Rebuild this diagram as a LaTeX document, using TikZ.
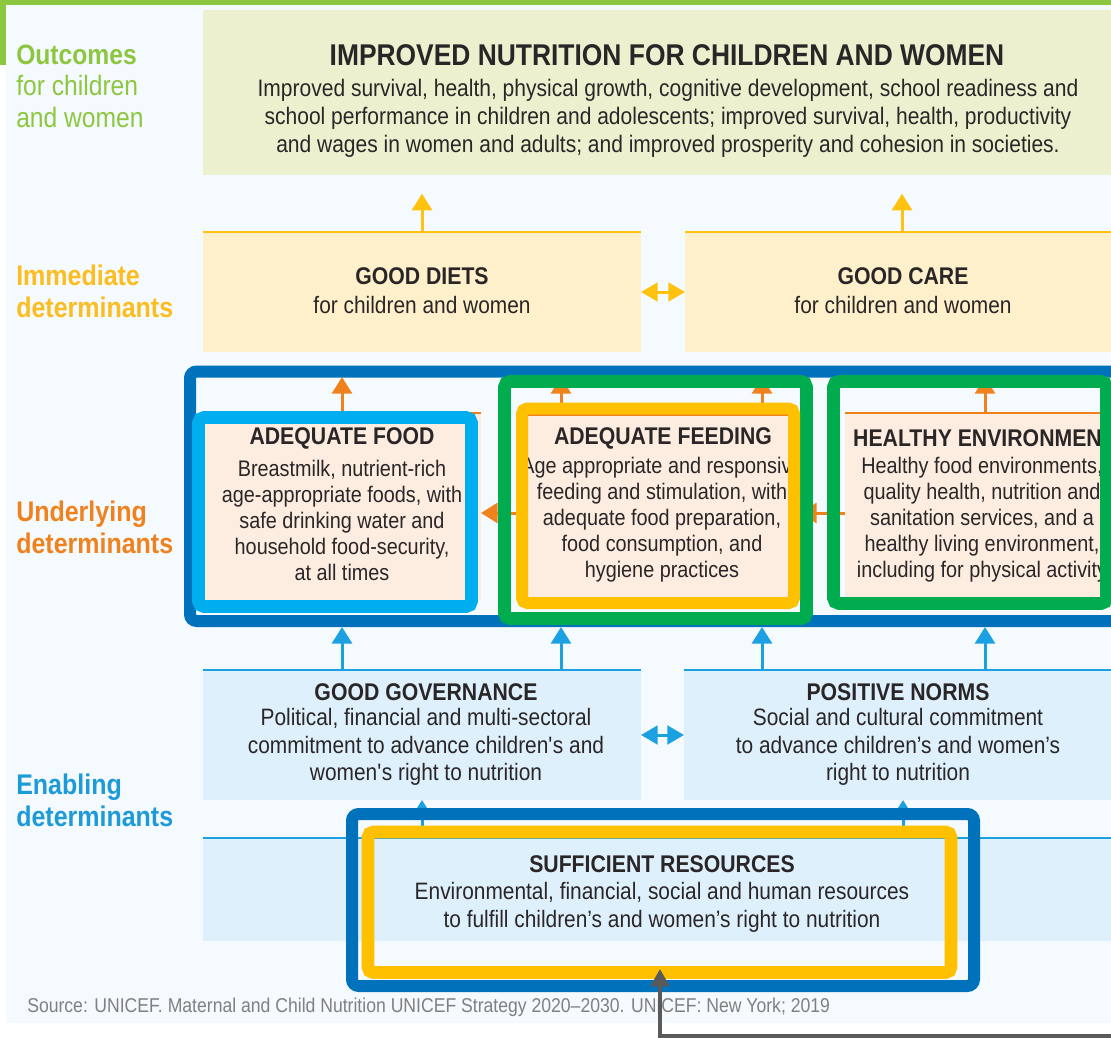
\documentclass[tikz,border=0pt]{standalone}
\usepackage{fontspec}
\setmainfont{Liberation Sans}[FakeStretch=0.88]
\usetikzlibrary{arrows.meta,fit}
\definecolor{cLime}{HTML}{8DC63F}
\definecolor{cPale}{HTML}{F5FAFE}
\definecolor{cOut}{HTML}{EDF0CF}
\definecolor{cYFill}{HTML}{FEF0CA}
\definecolor{cYLine}{HTML}{FFC20E}
\definecolor{cYLabel}{HTML}{FBBD1F}
\definecolor{cOrange}{HTML}{F0821E}
\definecolor{cPeach}{HTML}{FDEDE0}
\definecolor{cBFill}{HTML}{DEF0FC}
\definecolor{cBLine}{HTML}{1BA0E2}
\definecolor{cBLabel}{HTML}{1C9BD8}
\definecolor{cDBlue}{HTML}{0072BB}
\definecolor{cCyan}{HTML}{00AEEF}
\definecolor{cGreen}{HTML}{00AC4E}
\definecolor{cYel}{HTML}{FFC000}
\definecolor{cTxt}{HTML}{2A2627}
\definecolor{cSrc}{HTML}{808080}
\definecolor{cGray}{HTML}{5A5A5A}
\tikzset{
  boxn/.style={inner sep=0pt, outer sep=0pt, draw=none},
  lbl/.style={anchor=west, align=left, inner sep=0pt, font=\fontsize{21}{23.6}\selectfont},
  ttl/.style={inner sep=0pt, text=cTxt, font=\bfseries\fontsize{18.1}{20}\selectfont},
  bdy/.style={inner sep=0pt, text=cTxt, align=center, font=\fontsize{17.8}{20.5}\selectfont},
  ubdy/.style={inner sep=0pt, text=cTxt, align=center, font=\fontsize{16.9}{19.5}\selectfont},
  topline/.style={line width=1.5pt},
  head/.style={-{Triangle[length=12.5pt,width=15pt]}},
  dhead/.style={{Triangle[length=12.5pt,width=14pt]}-{Triangle[length=12.5pt,width=14pt]}},
  yarr/.style={head, line width=2.25pt, draw=cYLine},
  oarr/.style={head, line width=2.25pt, draw=cOrange},
  barr/.style={head, line width=2.25pt, draw=cBLine},
  frm/.style={inner sep=0pt, line width=9.5pt, rounded corners=4pt},
}
\begin{document}
\begin{tikzpicture}[x=0.75pt,y=-0.75pt]
\useasboundingbox (0,0) rectangle (1111,1038);
\fill[white] (0,0) rectangle (1111,1038);
\fill[cLime] (0,0) rectangle (1111,5);
\fill[cLime] (0,0) rectangle (6,65);
\fill[cPale] (6,5) rectangle (1111,1023);

% left labels
\node[lbl, text=cLime] (lout) at (16,86) {\textbf{Outcomes}\\for children\\and women};
\node[lbl, text=cYLabel, font=\bfseries\fontsize{21.3}{24}\selectfont] (limm) at (16,291) {Immediate\\determinants};
\node[lbl, text=cOrange, font=\bfseries\fontsize{21.3}{24}\selectfont] (lund) at (16,527) {Underlying\\determinants};
\node[lbl, text=cBLabel, font=\bfseries\fontsize{21.3}{24}\selectfont] (lena) at (16,800.5) {Enabling\\determinants};

% outcome
\node[boxn, fill=cOut, fit={(203,10) (1111,175)}] (outcome) {};
\node[ttl, font=\bfseries\fontsize{22.5}{24}\selectfont] (outT) at (667,55) {IMPROVED NUTRITION FOR CHILDREN AND WOMEN};
\node[bdy, font=\fontsize{17.9}{21}\selectfont] (outB) at (668,118) {Improved survival, health, physical growth, cognitive development, school readiness and\\school performance in children and adolescents; improved survival, health, productivity\\and wages in women and adults; and improved prosperity and cohesion in societies.};

% immediate
\node[boxn, fill=cYFill, fit={(203,232) (641,352)}] (diets) {};
\node[boxn, fill=cYFill, fit={(685,232) (1111,352)}] (care) {};
\draw[topline, cYLine] (diets.north west) -- (diets.north east);
\draw[topline, cYLine] (care.north west) -- (care.north east);
\node[ttl] (dietsT) at (422,276) {GOOD DIETS};
\node[bdy] (dietsB) at (422,305) {for children and women};
\node[ttl] (careT) at (903,276) {GOOD CARE};
\node[bdy] (careB) at (903,305) {for children and women};

% underlying boxes
\node[boxn, fill=cPeach, fit={(203,413) (481,600)}] (food) {};
\node[boxn, fill=cPeach, fit={(520,415) (800,600)}] (feed) {};
\node[boxn, fill=cPeach, fit={(845,413) (1111,597)}] (env) {};
\draw[topline, cOrange] (food.north west) -- (food.north east);
\draw[topline, cOrange] (feed.north west) -- (feed.north east);
\draw[topline, cOrange] (env.north west) -- (env.north east);
\node[ttl] (foodT) at (342,438) {ADEQUATE FOOD};
\node[ubdy] (foodB) at (342,520) {Breastmilk, nutrient-rich\\age-appropriate foods, with\\safe drinking water and\\household food-security,\\at all times};
\node[ttl] (feedT) at (663,438) {ADEQUATE FEEDING};
\node[ubdy] (feedB) at (662,520) {Age appropriate and responsive\\feeding and stimulation, with\\adequate food preparation,\\food consumption, and\\hygiene practices};
\node[ttl] (envT) at (984,438) {HEALTHY ENVIRONMENT};
\node[ubdy] (envB) at (982,520) {Healthy food environments,\\quality health, nutrition and\\sanitation services, and a\\healthy living environment,\\including for physical activity};

% enabling
\node[boxn, fill=cBFill, fit={(203,670) (641,800)}] (gov) {};
\node[boxn, fill=cBFill, fit={(684,670) (1111,800)}] (norms) {};
\node[boxn, fill=cBFill, fit={(203,838) (1111,941)}] (res) {};
\draw[topline, cBLine] (gov.north west) -- (gov.north east);
\draw[topline, cBLine] (norms.north west) -- (norms.north east);
\draw[topline, cBLine] (res.north west) -- (res.north east);
\node[ttl] (govT) at (426,692) {GOOD GOVERNANCE};
\node[bdy] (govB) at (426,747) {Political, financial and multi-sectoral\\commitment to advance children\textquotesingle s and\\women\textquotesingle s right to nutrition};
\node[ttl] (normsT) at (898,692) {POSITIVE NORMS};
\node[bdy] (normsB) at (898,747) {Social and cultural commitment\\to advance children’s and women’s\\right to nutrition};
\node[ttl] (resT) at (662,864) {SUFFICIENT RESOURCES};
\node[bdy, font=\fontsize{17.8}{21}\selectfont] (resB) at (662,907.5) {Environmental, financial, social and human resources\\to fulfill children’s and women’s right to nutrition};

\node[anchor=west, inner sep=0pt, text=cSrc, font=\fontsize{15.0}{17}\selectfont] (src) at (27,1007) {Source: UNICEF. Maternal and Child Nutrition UNICEF Strategy 2020–2030. UNICEF: New York; 2019};

% coordinates for connectors
\coordinate (c1) at (902,232);
\coordinate (f1) at (561,415);
\coordinate (f2) at (762,415);
\coordinate (e1) at (985,413);
\coordinate (h1) at (520,513);
\coordinate (h2) at (845,513);
\coordinate (b1) at (342,670);
\coordinate (b2) at (561,670);
\coordinate (b3) at (762,670);
\coordinate (b4) at (985,670);
\coordinate (r1) at (422,838);
\coordinate (r2) at (903,838);
\coordinate (gs) at (1120,1036);
\coordinate (gt) at (660,969);

% immediate -> outcome
\draw[yarr, shorten >=14pt] (diets.north) -- (diets.north |- outcome.south);
\draw[yarr, shorten >=14pt] (c1) -- (c1 |- outcome.south);
\draw[line width=2.25pt, draw=cYLine, dhead] (diets.east) -- (care.west);

% underlying -> immediate
\draw[oarr, shorten >=18.75pt] (food.north) -- (food.north |- diets.south);
\draw[oarr, shorten >=18.75pt] (f1) -- (f1 |- diets.south);
\draw[oarr, shorten >=18.75pt] (f2) -- (f2 |- care.south);
\draw[oarr, shorten >=18.75pt] (e1) -- (e1 |- care.south);
\draw[oarr] (h1) -- (h1 -| food.east);
\draw[oarr] (h2) -- (h2 -| feed.east);

% enabling
\draw[line width=2.25pt, draw=cBLine, dhead] (gov.east) -- (norms.west);
\draw[barr] (r1) -- (r1 |- gov.south);
\draw[barr] (r2) -- (r2 |- norms.south);

% frames
\node[frm, draw=cDBlue, line width=9pt, rounded corners=5pt, fit={(190,371.5) (1130,621)}] (uframe) {};
\draw[barr] (b1) -- (b1 |- uframe.south);
\draw[barr] (b2) -- (b2 |- uframe.south);
\draw[barr] (b3) -- (b3 |- uframe.south);
\draw[barr] (b4) -- (b4 |- uframe.south);
\node[frm, draw=cCyan, fit={(198.5,417.5) (471.5,606.5)}] (foodframe) {};
\node[frm, draw=cGreen, fit={(504.5,381.5) (806.5,618.5)}] (feedgreen) {};
\node[frm, draw=cYel, line width=9pt, fit={(522,408.5) (794,603)}] (feedyellow) {};
\node[frm, draw=cGreen, fit={(833.5,381.5) (1106.5,603.5)}] (envgreen) {};
\node[frm, draw=cDBlue, line width=9pt, rounded corners=5pt, fit={(352,814) (974,986)}] (resblue) {};
\node[frm, draw=cYel, fit={(368,832) (951,972.5)}] (resyellow) {};

% gray arrow
\draw[line width=2.6pt, draw=cGray, -{Triangle[length=13pt,width=14pt]}] (gs) -| (gt);
\end{tikzpicture}
\end{document}
